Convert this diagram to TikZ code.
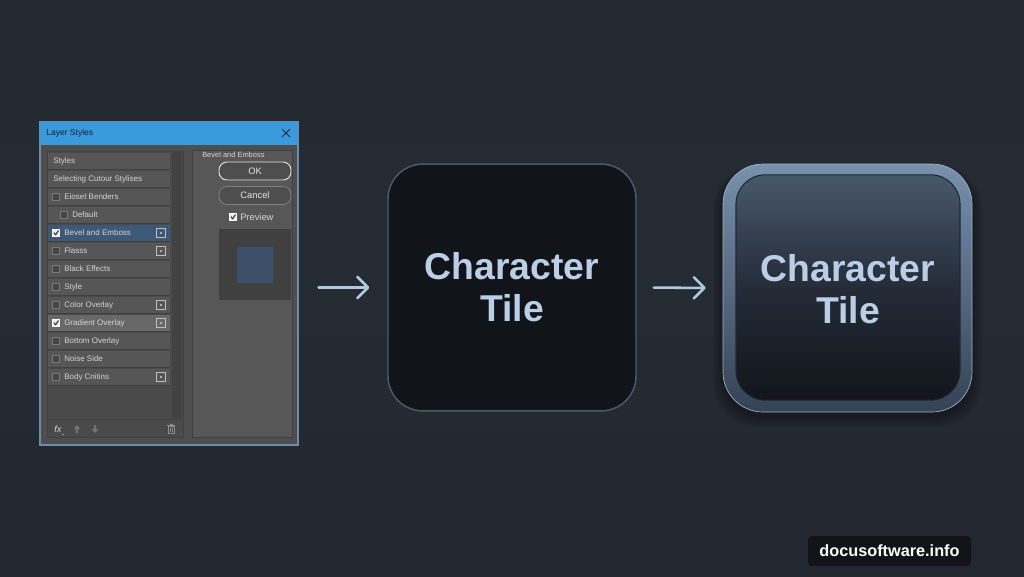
\documentclass[tikz,border=0pt]{standalone}
\usepackage{fontspec}
\setmainfont{Liberation Sans}
\usetikzlibrary{arrows.meta}
\definecolor{bg}{RGB}{37,43,51}
\definecolor{bgtop}{RGB}{36,42,50}
\definecolor{bgbot}{RGB}{35,40,48}
\definecolor{dlgbody}{RGB}{78,78,78}
\definecolor{dlgborder}{RGB}{110,140,170}
\definecolor{titleblue}{RGB}{58,155,220}
\definecolor{titletxt}{RGB}{20,35,55}
\definecolor{panelbg}{RGB}{74,74,74}
\definecolor{rowbg}{RGB}{86,86,86}
\definecolor{rowsep}{RGB}{64,64,64}
\definecolor{rowsel}{RGB}{62,88,120}
\definecolor{rowsel2}{RGB}{104,104,104}
\definecolor{rowtext}{RGB}{212,212,212}
\definecolor{scrollbg}{RGB}{66,66,66}
\definecolor{prevsq}{RGB}{60,80,106}
\definecolor{tileone}{RGB}{17,20,25}
\definecolor{tileoneedge}{RGB}{78,90,106}
\definecolor{tiletext}{RGB}{186,206,230}
\definecolor{arrowc}{RGB}{176,200,224}
\definecolor{frametop}{RGB}{120,145,172}
\definecolor{framebot}{RGB}{52,66,84}
\definecolor{innertop}{RGB}{72,88,108}
\definecolor{innermid}{RGB}{36,44,56}
\definecolor{innerbot}{RGB}{18,21,27}
\definecolor{wmbg}{RGB}{18,20,25}
\tikzset{
  rowtxt/.style={anchor=west, inner sep=0pt, font=\fontsize{6}{7}\selectfont, text=rowtext},
  cbox/.style={draw=rowsep!70!white, fill=rowbg!80!black, line width=0.4pt, minimum size=5.2pt, inner sep=0pt},
  cboxon/.style={draw=white, fill=white!92!black, line width=0.4pt, minimum size=5.2pt, inner sep=0pt},
  chk/.style={draw=black!80, line width=0.8pt, line cap=round, line join=round},
  iconbox/.style={draw=white!75!black, line width=0.5pt, minimum size=6.6pt, inner sep=0pt},
  btn/.style={draw, rounded corners=6pt, minimum width=54pt, minimum height=13.5pt, inner sep=0pt, fill=dlgbody, font=\fontsize{7}{8}\selectfont, text=white!90!black},
  tiletxt/.style={align=center, text=tiletext, font=\fontsize{28}{31.5}\selectfont\bfseries},
  flow/.style={draw=arrowc, line width=1.9pt, line cap=round, -{Straight Barb[length=8pt, width=16pt, line width=1.9pt, line cap=round, line join=round]}},
}
\begin{document}
\begin{tikzpicture}[x=0.75pt,y=0.75pt]
\useasboundingbox (0,0) rectangle (1024,-576);
\shade[top color=bgtop, bottom color=bgbot, middle color=bg] (0,0) rectangle (1024,-576);

% ---------- dialog ----------
\node[draw=dlgborder, fill=dlgbody, line width=0.8pt, minimum width=193.5pt, minimum height=242.25pt, inner sep=0pt] (dlg) at (169,-283.5) {};
\fill[titleblue] (40,-122) rectangle (298,-145);
\node[anchor=west, inner sep=0pt, font=\fontsize{6.4}{7}\selectfont, text=titletxt] (ttl) at (46,-133.5) {Layer Styles};
\draw[titletxt, line width=0.7pt] (282,-129) -- (290,-137) (282,-137) -- (290,-129);

% left panel
\fill[panelbg] (47,-151) rectangle (183,-437);
\draw[rowsep, line width=0.6pt] (47,-151) rectangle (183,-437);
\fill[scrollbg] (172,-152) rectangle (182,-418);
\foreach \i/\yy/\lab/\cb/\ic in {
  1/161/Styles/0/0,
  2/179/Selecting Cutour Stylises/0/0,
  3/197/Eioset Benders/1/0,
  4/215/Default/2/0,
  5/233/Bevel and Emboss/3/1,
  6/251/Flasss/1/1,
  7/269/Black Effects/1/0,
  8/287/Style/1/0,
  9/305/Color Overlay/1/1,
  10/323/Gradient Overlay/3/1,
  11/341/Bottom Overlay/1/0,
  12/359/Noise Side/1/0,
  13/377/Body Cnitins/1/1}{
  \ifnum\i=5 \fill[rowsel] (48,-\yy+8.5) rectangle (170,-\yy-8.5);
  \else\ifnum\i=10 \fill[rowsel2] (48,-\yy+8.5) rectangle (170,-\yy-8.5);
  \else \fill[rowbg] (48,-\yy+8.5) rectangle (170,-\yy-8.5);\fi\fi
  \draw[rowsep, line width=0.6pt] (48,-\yy-8.5) -- (170,-\yy-8.5);
  \ifnum\cb=0 \node[rowtxt] (r\i) at (53,-\yy) {\lab};\fi
  \ifnum\cb=1 \node[cbox] (c\i) at (56,-\yy) {}; \node[rowtxt] (r\i) at (64,-\yy) {\lab};\fi
  \ifnum\cb=2 \node[cbox] (c\i) at (64,-\yy) {}; \node[rowtxt] (r\i) at (72,-\yy) {\lab};\fi
  \ifnum\cb=3 \node[cboxon] (c\i) at (56,-\yy) {};
     \draw[chk] (54,-\yy+0.2) -- (55.6,-\yy-1.8) -- (58.4,-\yy+2.2);
     \node[rowtxt] (r\i) at (64,-\yy) {\lab};\fi
  \ifnum\ic=1 \node[iconbox] (i\i) at (161,-\yy) {};
     \fill[white!80!black] (161,-\yy) circle (1.2);\fi
}
% toolbar
\draw[rowsep, line width=0.6pt] (48,-419) -- (182,-419);
\node[inner sep=0pt, font=\fontsize{7}{8}\selectfont\itshape, text=rowtext] (fx) at (58,-429) {fx};
\fill[white!60!black] (61.5,-433.5) rectangle (63.5,-434.3);
\fill[white!45!black] (77,-425) -- (73.5,-429) -- (75.8,-429) -- (75.8,-433) -- (78.2,-433) -- (78.2,-429) -- (80.5,-429) -- cycle;
\fill[white!45!black] (95,-433) -- (91.5,-429) -- (93.8,-429) -- (93.8,-425) -- (96.2,-425) -- (96.2,-429) -- (98.5,-429) -- cycle;
\draw[white!55!black, line width=0.6pt] (168,-426) rectangle (174,-433.5) (167,-425.5) -- (175,-425.5) (169.5,-424.5) -- (172.5,-424.5)
  (170,-427.5) -- (170,-432) (172,-427.5) -- (172,-432);

% right panel
\fill[dlgbody!95!white] (192,-150) rectangle (292,-437);
\draw[rowsep, line width=0.6pt] (192,-150) rectangle (292,-437);
\node[anchor=west, inner sep=0pt, font=\fontsize{5.6}{6.5}\selectfont, text=rowtext] (hdr) at (202,-154.5) {Bevel and Emboss};
\node[btn, draw=white!90!black, line width=0.7pt] (ok) at (255,-171) {OK};
\node[btn, draw=white!50!black, line width=0.6pt] (cancel) at (255,-195.5) {Cancel};
\node[cboxon] (pcb) at (233,-217) {};
\draw[chk] (231,-217+0.2) -- (232.6,-217-1.8) -- (235.4,-217+2.2);
\node[anchor=west, inner sep=0pt, font=\fontsize{7}{8}\selectfont, text=rowtext] (prev) at (240,-217) {Preview};
\fill[black!75!white] (219,-229) rectangle (291,-300);
\fill[prevsq] (237,-247) rectangle (273,-283);

% ---------- tile 1 ----------
\node[draw=tileoneedge, fill=tileone, line width=1.1pt, rounded corners=26pt, minimum width=186pt, minimum height=185pt, inner sep=0pt, tiletxt] (tile1) at (512,-287.5) {Character\\Tile};

% ---------- tile 2 ----------
\foreach \k in {1,...,6}{
  \fill[black, opacity=0.06, rounded corners=32pt] (723-\k*1.6,-164+\k*0.4-4) rectangle (972+\k*1.6,-412-\k*1.8-4);
}
\node[top color=frametop, bottom color=framebot, draw=frametop!70!white, line width=0.5pt, rounded corners=30pt, minimum width=186.75pt, minimum height=186pt, inner sep=0pt] (tile2) at (847.5,-288) {};
\node[top color=innertop, bottom color=innerbot, middle color=innermid, draw=black!40!framebot, line width=0.8pt, rounded corners=22pt, minimum width=168pt, minimum height=169pt, inner sep=0pt] (inner2) at (848,-287.5) {};
\node[tiletxt] (t2txt) at (848,-289) {Character\\Tile};

% ---------- arrows ----------
\draw[flow, shorten <=15pt, shorten >=13.5pt] (dlg.east |- tile1.west) -- (tile1.west);
\draw[flow, shorten <=12.75pt, shorten >=12.75pt] (tile1.east) -- (tile2.west);

% ---------- watermark ----------
\node[fill=wmbg, rounded corners=2.5pt, minimum width=122pt, minimum height=22.5pt, inner sep=0pt, text=white, font=\fontsize{12.2}{14}\selectfont\bfseries] (wm) at (889.5,-551) {docusoftware.info};
\end{tikzpicture}
\end{document}
